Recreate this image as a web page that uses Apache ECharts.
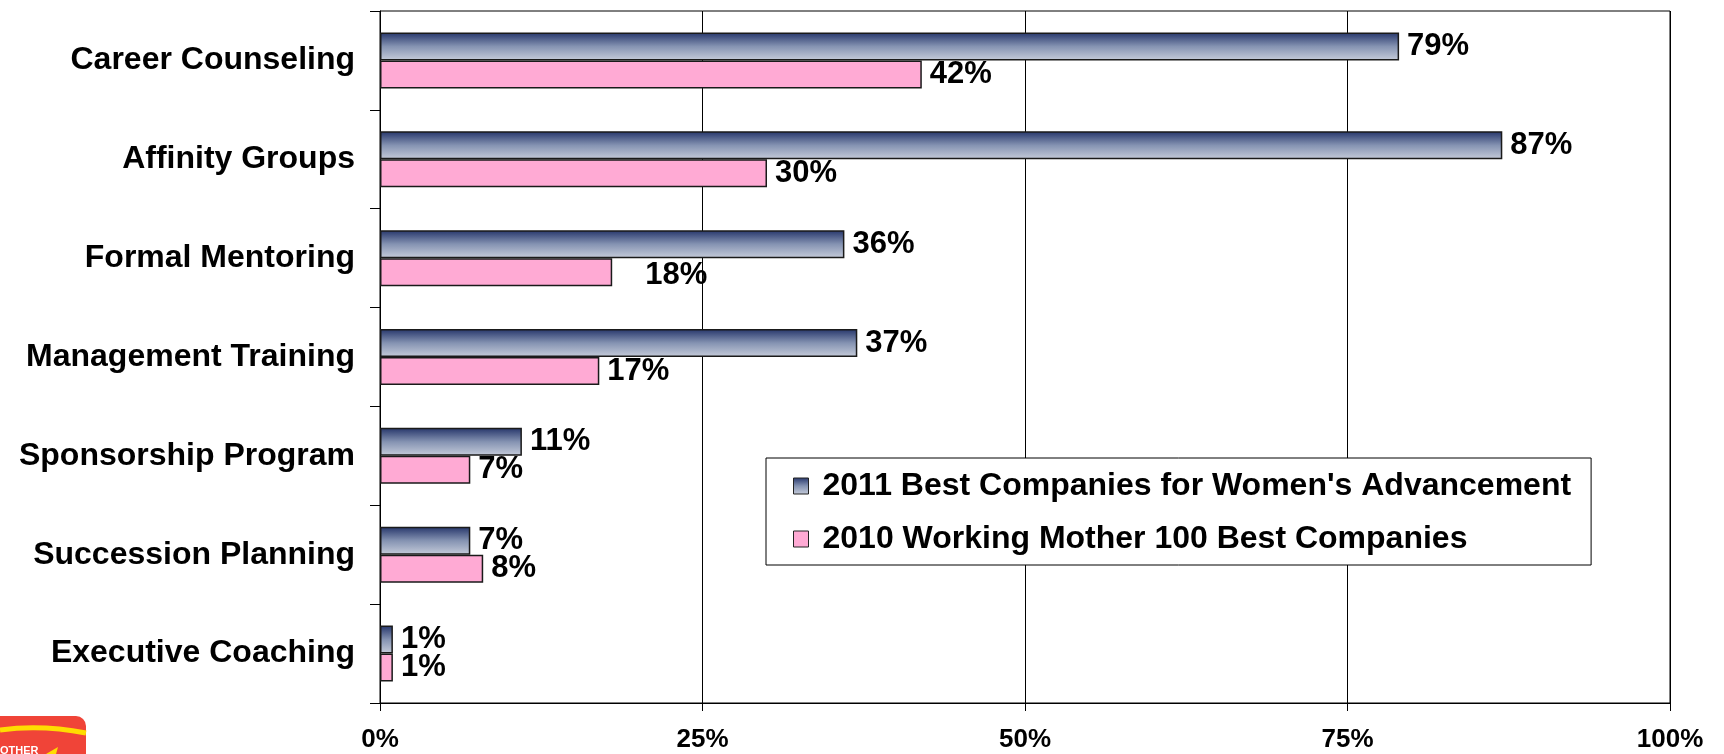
<!DOCTYPE html>
<html>
<head>
<meta charset="utf-8">
<script src="https://cdn.jsdelivr.net/npm/echarts@6/dist/echarts.min.js"></script>
<style>
  html, body { margin: 0; padding: 0; background: #fff; }
  #main { width: 1724px; height: 754px; }
</style>
</head>
<body>
<div id="main"></div>
<script>
// categories, top to bottom
var categories = ['Career Counseling', 'Affinity Groups', 'Formal Mentoring', 'Management Training',
  'Sponsorship Program', 'Succession Planning', 'Executive Coaching'];
var seriesNames = ['2011 Best Companies for Women\'s Advancement', '2010 Working Mother 100 Best Companies'];
var values2011 = [79, 87, 36, 37, 11, 7, 1];
var values2010 = [42, 30, 18, 17, 7, 8, 1];
var xTicks = [0, 25, 50, 75, 100];

var FONT = 'Liberation Sans, Arial, sans-serif';

var myChart = echarts.init(document.getElementById('main'));

var labelStyle = {
  show: true,
  position: 'right',
  distance: 8,
  color: '#000',
  fontFamily: FONT,
  fontWeight: 'bold',
  fontSize: 31,
  formatter: '{c}%'
};

// the 18% label sits a bit off its bar in the original
var data2010 = values2010.map(function (v, i) {
  if (i === 2) return { value: v, label: { offset: [25, 3] } };
  return v;
});

var option = {
  animation: false,
  backgroundColor: '#fff',
  grid: {
    left: 380,
    right: 54,
    top: 11,
    bottom: 51,
    show: true,
    borderColor: '#000',
    borderWidth: 1
  },
  legend: {
    data: seriesNames,
    orient: 'vertical',
    left: 766,
    top: 458,
    backgroundColor: '#fff',
    borderColor: '#000',
    borderWidth: 1,
    padding: [8, 20, 6, 27],
    itemGap: 13,
    itemWidth: 15,
    itemHeight: 16,
    icon: 'rect',
    itemStyle: { borderColor: '#222', borderWidth: 1 },
    textStyle: {
      color: '#000',
      fontFamily: FONT,
      fontWeight: 'bold',
      fontSize: 32,
      lineHeight: 40,
      padding: [0, 0, 0, 9]
    }
  },
  xAxis: {
    type: 'value',
    min: 0,
    max: 100,
    interval: 25,
    axisLine: { show: true, lineStyle: { color: '#000', width: 1 } },
    axisTick: { show: true, length: 8, lineStyle: { color: '#000' } },
    splitLine: { show: true, lineStyle: { color: '#000', width: 1 } },
    axisLabel: {
      color: '#000',
      fontFamily: FONT,
      fontWeight: 'bold',
      fontSize: 26,
      margin: 24,
      formatter: function (v) { return xTicks.indexOf(v) >= 0 ? v + '%' : ''; }
    }
  },
  yAxis: {
    type: 'category',
    inverse: true,
    data: categories,
    axisLine: { show: true, lineStyle: { color: '#000', width: 1 } },
    axisTick: { show: true, length: 10, lineStyle: { color: '#000' } },
    axisLabel: {
      color: '#000',
      fontFamily: FONT,
      fontWeight: 'bold',
      fontSize: 32,
      margin: 25
    }
  },
  series: [
    {
      name: seriesNames[0],
      type: 'bar',
      data: values2011,
      barWidth: 28,
      barGap: '0%',
      itemStyle: {
        color: new echarts.graphic.LinearGradient(0, 0, 0, 1, [
          { offset: 0, color: '#25356a' },
          { offset: 0.5, color: '#8593b2' },
          { offset: 1, color: '#c6ccda' }
        ]),
        borderColor: '#1a1a1a',
        borderWidth: 1.5
      },
      label: labelStyle
    },
    {
      name: seriesNames[1],
      type: 'bar',
      data: data2010,
      barWidth: 28,
      barGap: '0%',
      itemStyle: {
        color: '#ffaad4',
        borderColor: '#1a1a1a',
        borderWidth: 1.5
      },
      label: labelStyle
    }
  ],
  // clipped logo in the bottom-left corner
  graphic: [
    {
      type: 'rect',
      shape: { x: -20, y: 716, width: 106, height: 60, r: 10 },
      style: { fill: '#f04438' },
      silent: true
    },
    {
      type: 'bezierCurve',
      shape: { x1: 0, y1: 730, x2: 86, y2: 733, cpx1: 30, cpy1: 726, cpx2: 60, cpy2: 728 },
      style: { stroke: '#ffdd00', lineWidth: 5, fill: null },
      silent: true
    },
    {
      type: 'text',
      left: 0,
      top: 745,
      style: { text: 'OTHER', fill: '#fff', font: 'bold 11px ' + FONT },
      silent: true
    },
    {
      type: 'polygon',
      shape: { points: [[46, 754], [58, 747], [56, 754]] },
      style: { fill: '#ffdd00' },
      silent: true
    }
  ]
};

myChart.setOption(option);
</script>
</body>
</html>
